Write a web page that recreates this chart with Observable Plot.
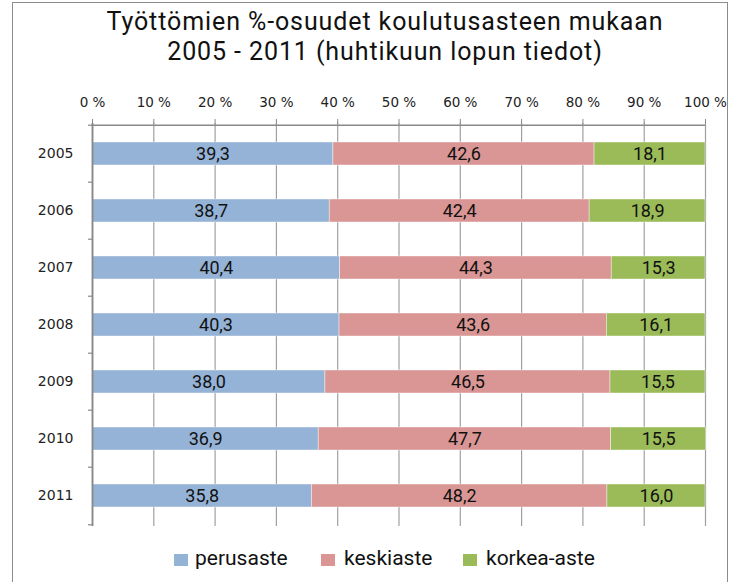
<!DOCTYPE html>
<html><head><meta charset="utf-8">
<script src="https://cdn.jsdelivr.net/npm/d3@7"></script>
<script src="https://cdn.jsdelivr.net/npm/@observablehq/plot@0.6"></script>
<style>
body{margin:0;background:#fff;}
#wrap{position:relative;width:730px;height:582px;overflow:hidden;font-family:Roboto, sans-serif;}
#frame{position:absolute;left:12px;top:2px;width:714px;height:640px;border:1px solid #8c8c8c;}
#title{position:absolute;left:20px;top:7px;width:730px;text-align:center;font-size:25px;letter-spacing:0.9px;line-height:30px;color:#111;}
#chart{position:absolute;left:0;top:80px;}
#legend{position:absolute;left:0;top:545px;width:730px;height:26px;}
.item{position:absolute;top:0;font-size:21px;line-height:26px;color:#111;}
.sw{position:absolute;width:14px;height:12px;top:9px;}
</style></head><body>
<div id="wrap">
<div id="frame"></div>
<div id="title">Työttömien %-osuudet koulutusasteen mukaan<br>2005 - 2011 (huhtikuun lopun tiedot)</div>
<div id="chart"></div>
<div id="legend"></div>
</div>
<script>
const years = ["2005","2006","2007","2008","2009","2010","2011"];
const levels = ["perusaste","keskiaste","korkea-aste"];
const colors = ["#95B3D7","#D99694","#9BBB59"];
const perusaste = [39.3,38.7,40.4,40.3,38.0,36.9,35.8];
const keskiaste = [42.6,42.4,44.3,43.6,46.5,47.7,48.2];
const korkea = [18.1,18.9,15.3,16.1,15.5,15.5,16.0];
const xTicks = [0,10,20,30,40,50,60,70,80,90,100];

const series = [perusaste, keskiaste, korkea];
const data = [];
years.forEach((y,i)=>levels.forEach((l,j)=>data.push({year:y, level:l, value:series[j][i]})));

const W = 730, H = 460, mT = 43, mB = 14, mL = 92, mR = 25;
const step = (H - mT - mB) / years.length;
const half = step / 2;
const fmt = v => v.toFixed(1).replace(".", ",");

const chart = Plot.plot({
  width: W, height: H,
  marginTop: mT, marginBottom: mB, marginLeft: mL, marginRight: mR,
  style: {fontFamily: "Roboto, sans-serif", background: "transparent"},
  x: {domain: [0,100]},
  y: {domain: years, paddingInner: 0.6, paddingOuter: 0.3},
  color: {domain: levels, range: colors},
  marks: [
    Plot.gridX(xTicks, {stroke: "#a0a0a0", strokeOpacity: 1, strokeWidth: 1.2}),
    Plot.barX(data, Plot.stackX({x: "value", y: "year", fill: "level", order: levels, stroke: "#ffffff", strokeWidth: 0.6, strokeOpacity: 0.7})),
    Plot.text(data, Plot.stackX({x: "value", y: "year", z: "level", order: levels, text: d => fmt(d.value), fontSize: 18, fill: "#111"})),
    Plot.ruleX([0], {stroke: "#888", strokeWidth: 1.8}),
    Plot.ruleY([years[0]], {x1: 0, x2: 100, dy: -half, stroke: "#888", strokeWidth: 1.5}),
    Plot.ruleY(years, {x1: -0.65, x2: 0, dy: -half, stroke: "#888", strokeWidth: 1.2, clip: false}),
    Plot.ruleY([years[years.length-1]], {x1: -0.65, x2: 0, dy: half, stroke: "#888", strokeWidth: 1.2, clip: false}),
    Plot.axisX(xTicks, {anchor: "top", tickSize: 5, tickPadding: 12, fontSize: 13.5, fontFamily: "DejaVu Sans", stroke: "#888", fill: "#222", tickFormat: d => d + " %", label: null}),
    Plot.axisY({tickSize: 0, tickPadding: 19, fontSize: 14, fontFamily: "DejaVu Sans", fill: "#222", label: null})
  ]
});
document.getElementById("chart").appendChild(chart);

const legend = document.getElementById("legend");
const pos = [[174,195],[321,344],[463,486]];
levels.forEach((l,i)=>{
  const sw = document.createElement("div");
  sw.className = "sw"; sw.style.left = pos[i][0] + "px"; sw.style.background = colors[i];
  legend.appendChild(sw);
  const t = document.createElement("div");
  t.className = "item"; t.style.left = pos[i][1] + "px"; t.textContent = l;
  legend.appendChild(t);
});
</script>
</body></html>
